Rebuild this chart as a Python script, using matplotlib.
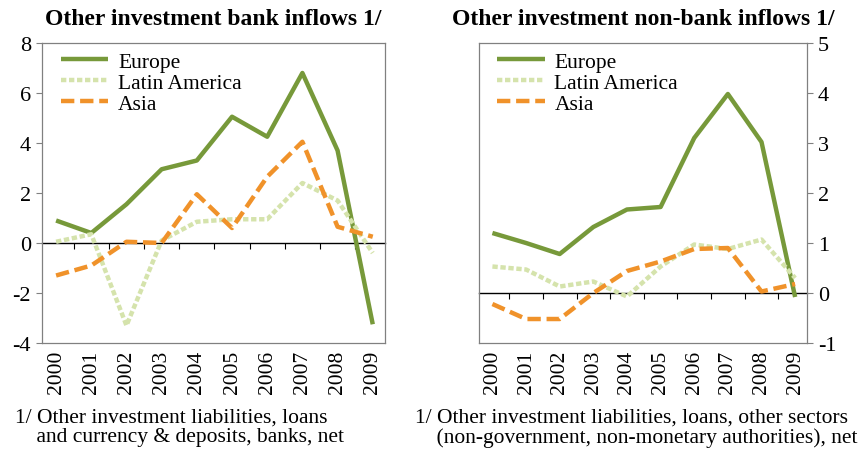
import matplotlib.pyplot as plt
import numpy as np

years = ["2000", "2001", "2002", "2003", "2004", "2005", "2006", "2007", "2008", "2009"]

bank_europe = [0.9, 0.4, 1.55, 2.95, 3.3, 5.05, 4.25, 6.8, 3.7, -3.25]
bank_latam = [0.05, 0.35, -3.3, 0.1, 0.85, 0.95, 0.95, 2.4, 1.7, -0.4]
bank_asia = [-1.3, -0.9, 0.05, 0.0, 1.95, 0.6, 2.65, 4.05, 0.65, 0.25]

nonbank_europe = [1.2, 1.0, 0.78, 1.32, 1.67, 1.72, 3.1, 3.98, 3.02, -0.08]
nonbank_latam = [0.53, 0.47, 0.13, 0.23, -0.07, 0.53, 0.97, 0.88, 1.07, 0.3]
nonbank_asia = [-0.22, -0.52, -0.52, 0.0, 0.44, 0.63, 0.88, 0.9, 0.03, 0.18]

green = "#77993a"
light = "#d5e3ac"
orange = "#f0922a"

plt.rcParams["font.family"] = ["Liberation Serif", "DejaVu Serif"]
plt.rcParams["axes.unicode_minus"] = False

fig = plt.figure(figsize=(8.63, 4.52), dpi=100)
ax1 = fig.add_axes([0.0487, 0.2389, 0.3975, 0.6638])
ax2 = fig.add_axes([0.555, 0.2389, 0.380, 0.6638])

x = np.arange(len(years))


def draw(ax, eu, la, asia, ylim, step, title, side):
    ax.plot(x, eu, color=green, lw=3.2, label="Europe", solid_capstyle="butt")
    ax.plot(x, la, color=light, lw=3.2, ls=(0, (1.2, 0.6)), label="Latin America")
    ax.plot(x, asia, color=orange, lw=3.2, ls=(0, (3.0, 1.3)), label="Asia")
    ax.set_xlim(-0.4, 9.35)
    ax.set_ylim(*ylim)
    ax.set_yticks(range(ylim[0], ylim[1] + 1, step))
    ax.set_xticks(x)
    ax.set_xticklabels(years, rotation=90)
    ax.tick_params(axis="x", length=0, pad=5, labelsize=15.5)
    ax.tick_params(axis="y", direction="out", length=4, color="#808080", labelsize=16, pad=4)
    if side == "right":
        ax.yaxis.tick_right()
    for s in ax.spines.values():
        s.set_color("#808080")
        s.set_linewidth(0.9)
    # horizontal axis line crossing at zero with boundary ticks
    loc = (0 - ylim[0]) / (ylim[1] - ylim[0])
    sec = ax.secondary_xaxis(loc)
    sec.set_xticks(x[:-1] + 0.5)
    sec.tick_params(direction="out", length=4, color="black", labelbottom=False, labeltop=False,
                    bottom=True, top=False)
    sec.spines["bottom"].set_color("black")
    sec.spines["bottom"].set_linewidth(1)
    ax.set_title(title, fontsize=17, fontweight="bold", pad=14)
    ax.legend(loc="upper left", frameon=False, fontsize=15.5, handlelength=2.2,
              labelspacing=0.05, borderaxespad=0.0, handletextpad=0.45,
              bbox_to_anchor=(0.03, 1.0))


draw(ax1, bank_europe, bank_latam, bank_asia, (-4, 8), 2, "Other investment bank inflows 1/", "left")
draw(ax2, nonbank_europe, nonbank_latam, nonbank_asia, (-1, 5), 1, "Other investment non-bank inflows 1/", "right")

fig.text(15 / 863, 1 - 428 / 452, "1/ Other investment liabilities, loans\n    and currency & deposits, banks, net",
         fontsize=15.5, va="center", linespacing=1.05)
fig.text(415 / 863, 1 - 428 / 452,
         "1/ Other investment liabilities, loans, other sectors\n    (non-government, non-monetary authorities), net",
         fontsize=15.5, va="center", linespacing=1.05)

fig.savefig("out.png", dpi=100)
